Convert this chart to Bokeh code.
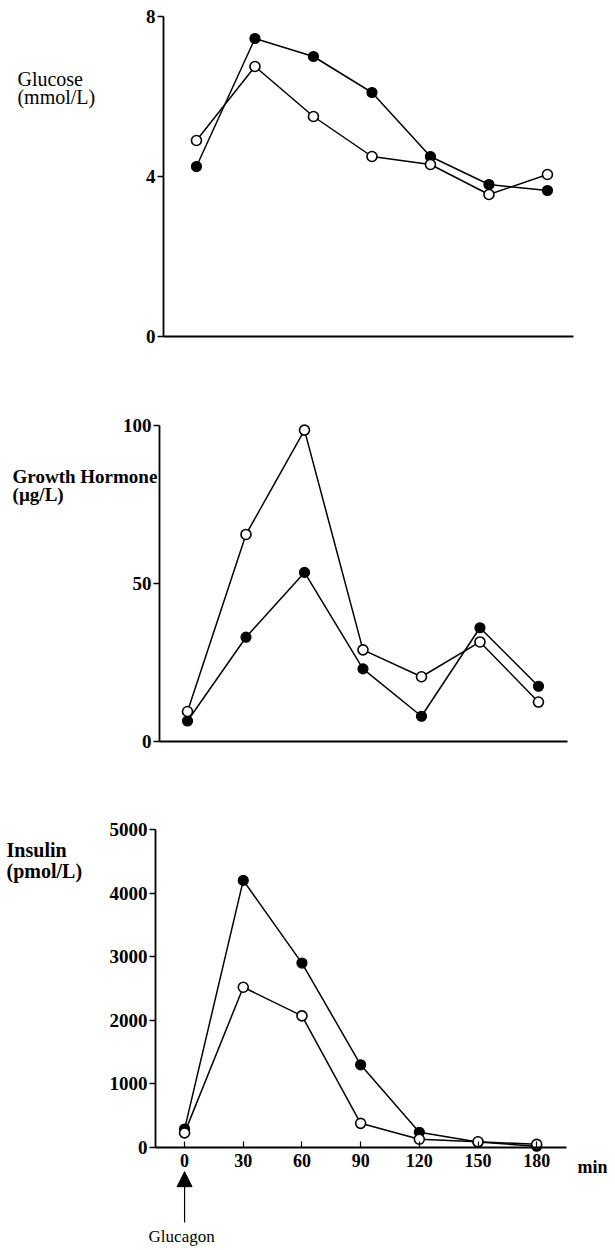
from bokeh.plotting import figure
from bokeh.layouts import column
from bokeh.models import Range1d, FixedTicker, Label, Arrow, NormalHead
from bokeh.embed import file_html
from bokeh.resources import INLINE

# ---- data ----
time_min = [0, 30, 60, 90, 120, 150, 180]

glucose_filled = [4.25, 7.45, 7.0, 6.1, 4.5, 3.8, 3.65]
glucose_open = [4.9, 6.75, 5.5, 4.5, 4.3, 3.55, 4.05]

gh_filled = [6.5, 33, 53.5, 23, 8, 36, 17.5]
gh_open = [9.5, 65.5, 98.5, 29, 20.5, 31.5, 12.5]

insulin_filled = [290, 4200, 2900, 1300, 240, 85, 20]
insulin_open = [230, 2520, 2070, 380, 130, 90, 50]

glucose_ticks = [0, 4, 8]
gh_ticks = [0, 50, 100]
insulin_ticks = [0, 1000, 2000, 3000, 4000, 5000]
time_ticks = [0, 30, 60, 90, 120, 150, 180]

FONT = "Liberation Serif"
W = 607


def panel(height, xr, yr, x_lo, x_hi, y_hi, yticks, show_x_labels):
    p = figure(width=W, height=height, x_range=Range1d(*xr), y_range=Range1d(*yr),
               output_backend="svg", toolbar_location=None)
    p.min_border = 0
    p.outline_line_color = None
    p.grid.visible = False
    p.background_fill_color = "white"
    p.border_fill_color = "white"

    ya = p.yaxis[0]
    ya.fixed_location = x_lo
    ya.bounds = (0, y_hi)
    ya.ticker = FixedTicker(ticks=yticks)
    ya.axis_line_color = "black"
    ya.axis_line_width = 1.8
    ya.major_tick_line_color = "black"
    ya.major_tick_line_width = 1.5
    ya.major_tick_in = 0
    ya.major_tick_out = 6
    ya.minor_tick_line_color = None
    ya.major_label_standoff = 2
    ya.major_label_text_font = FONT
    ya.major_label_text_font_style = "bold"
    ya.major_label_text_font_size = "19px"
    ya.major_label_text_color = "black"

    xa = p.xaxis[0]
    xa.fixed_location = 0
    xa.bounds = (x_lo, x_hi)
    xa.axis_line_color = "black"
    xa.axis_line_width = 2
    xa.minor_tick_line_color = None
    if show_x_labels:
        xa.ticker = FixedTicker(ticks=time_ticks)
        xa.major_tick_in = 6
        xa.major_tick_out = 0
        xa.major_tick_line_color = "black"
        xa.major_tick_line_width = 1.2
        xa.major_label_standoff = 6
        xa.major_label_text_font = FONT
        xa.major_label_text_font_style = "bold"
        xa.major_label_text_font_size = "18px"
        xa.major_label_text_color = "black"
    else:
        xa.ticker = FixedTicker(ticks=[])
        xa.major_tick_line_color = None
        xa.major_label_text_font_size = "0px"
    return p


def draw_series(p, filled, open_):
    p.line(time_min, filled, line_color="black", line_width=1.5)
    p.scatter(time_min, filled, marker="circle", size=10, fill_color="black",
              line_color="black", line_width=1.2)
    p.line(time_min, open_, line_color="black", line_width=1.5)
    p.scatter(time_min, open_, marker="circle", size=10, fill_color="white",
              line_color="black", line_width=1.6)


def text_label(p, x, y, txt, bold=True, size="20px", align="left"):
    p.add_layout(Label(x=x, y=y, text=txt, text_font=FONT,
                       text_font_style="bold" if bold else "normal",
                       text_font_size=size, text_color="black",
                       text_align=align, text_baseline="alphabetic"))


# ---- Glucose ----
p1 = panel(380, (-100.5, 210.8), (-1.1, 8.4), -16.9, 193.3, 8, glucose_ticks, False)
draw_series(p1, glucose_filled, glucose_open)
text_label(p1, -91.8, 6.45, "Glucose", bold=False)
text_label(p1, -91.8, 5.98, "(mmol/L)", bold=False)

# ---- Growth hormone ----
p2 = panel(405, (-95.9, 215.4), (-13.9, 114.2), -14.4, 194.9, 100, gh_ticks, False)
draw_series(p2, gh_filled, gh_open)
text_label(p2, -89.7, 83.9, "Growth Hormone", size="19px")
text_label(p2, -89.7, 78.3, "(\u00b5g/L)", size="19px")

# ---- Insulin ----
p3 = panel(463, (-94.1, 216.2), (-1588, 5692), -14.8, 195.3, 5000, insulin_ticks, True)
draw_series(p3, insulin_filled, insulin_open)
text_label(p3, -91, 4670, "Insulin")
text_label(p3, -91, 4340, "(pmol/L)")
text_label(p3, 200.9, -300, "min", size="18px")

# Glucagon injection arrow at time 0
p3.add_layout(Arrow(end=NormalHead(size=15, fill_color="black", line_color="black"),
                    x_start=0, y_start=-1180, x_end=0, y_end=-380,
                    line_color="black", line_width=1.2))
text_label(p3, -1.5, -1400, "Glucagon", bold=False, size="17px", align="center")

layout = column(p1, p2, p3, spacing=0)
open("out.html", "w").write(file_html(layout, INLINE))
